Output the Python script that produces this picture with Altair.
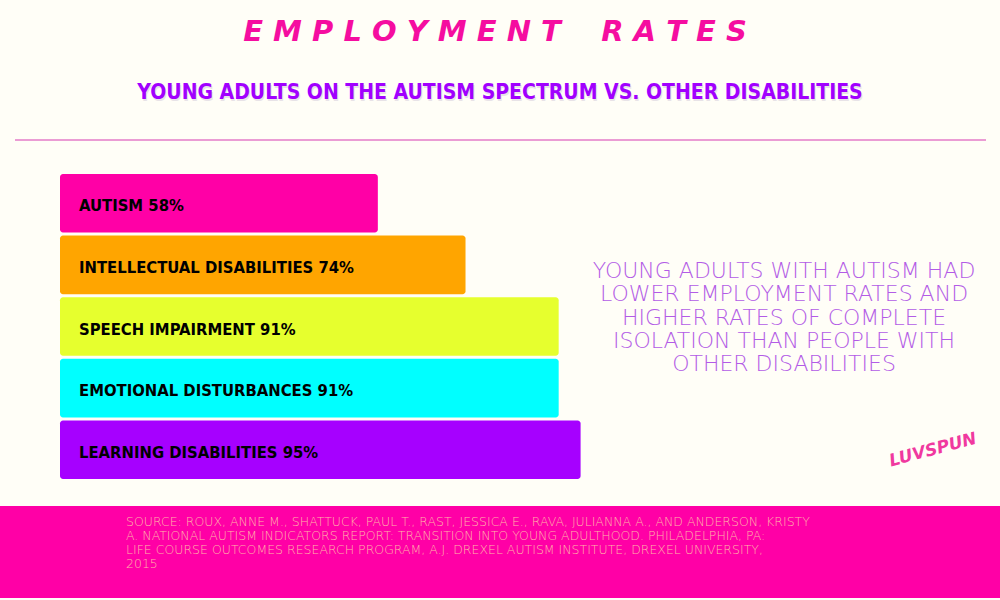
import altair as alt
import pandas as pd

# ---- data ----
categories = ["Autism", "Intellectual Disabilities", "Speech Impairment",
              "Emotional Disturbances", "Learning Disabilities"]
values = [58, 74, 91, 91, 95]
labels = ["AUTISM 58%", "INTELLECTUAL DISABILITIES 74%", "SPEECH IMPAIRMENT 91%",
          "EMOTIONAL DISTURBANCES 91%", "LEARNING DISABILITIES 95%"]
bar_colors = ["#FF00A6", "#FFA500", "#E6FF2E", "#00FFFF", "#A600FF"]

NB = "\u00a0"
title_text = NB.join("EMPLOYMENT") + NB * 4 + NB.join("RATES")
subtitle_text = "YOUNG ADULTS ON THE AUTISM SPECTRUM VS. OTHER DISABILITIES"
note_lines = ["YOUNG ADULTS WITH AUTISM HAD", "LOWER EMPLOYMENT RATES AND",
              "HIGHER RATES OF COMPLETE", "ISOLATION THAN PEOPLE WITH",
              "OTHER DISABILITIES"]
source_lines = [
    "SOURCE: ROUX, ANNE M., SHATTUCK, PAUL T., RAST, JESSICA E., RAVA, JULIANNA A., AND ANDERSON, KRISTY",
    "A. NATIONAL AUTISM INDICATORS REPORT: TRANSITION INTO YOUNG ADULTHOOD. PHILADELPHIA, PA:",
    "LIFE COURSE OUTCOMES RESEARCH PROGRAM, A.J. DREXEL AUTISM INSTITUTE, DREXEL UNIVERSITY,",
    "2015",
]

df = pd.DataFrame({"category": categories, "value": values, "label": labels,
                   "start": [0] * len(values)})
one = pd.DataFrame({"a": [0]})

W, H = 1000, 600
COND = "'DejaVu Sans Condensed', 'DejaVu Sans', sans-serif"

xscale = alt.Scale(domain=[0, 100], range=[60, 608])
yscale = alt.Scale(domain=categories, range=[174, 479], paddingInner=0.05, paddingOuter=0)
cscale = alt.Scale(domain=categories, range=bar_colors)

footer_band = alt.Chart(one).mark_rect(color="#FF00A6").encode(
    x=alt.value(0), x2=alt.value(W), y=alt.value(506), y2=alt.value(598))

divider = alt.Chart(one).mark_rule(color="#E47BC8", strokeWidth=1.5).encode(
    x=alt.value(15), x2=alt.value(986), y=alt.value(140))

bars = alt.Chart(df).mark_bar(cornerRadiusEnd=3).encode(
    x=alt.X("value:Q", scale=xscale, axis=None),
    x2=alt.X2("start:Q"),
    y=alt.Y("category:N", scale=yscale, axis=None, sort=categories),
    color=alt.Color("category:N", scale=cscale, legend=None),
)

bar_labels = alt.Chart(df).mark_text(
    align="left", baseline="middle", dx=19, dy=3, font=COND, fontWeight="bold",
    fontSize=16.5, color="#000000").encode(
    x=alt.X("start:Q", scale=xscale, axis=None),
    y=alt.Y("category:N", scale=yscale, axis=None, sort=categories),
    text="label:N",
)

title = alt.Chart(one).mark_text(
    text=title_text, align="center", baseline="middle", font="DejaVu Sans",
    fontStyle="italic", fontWeight="bold", fontSize=29, color="#F50DA0").encode(
    x=alt.value(495), y=alt.value(32))

subtitle_shadow = alt.Chart(one).mark_text(
    text=subtitle_text, align="center", baseline="middle", font=COND,
    fontWeight="bold", fontSize=21, color="#D9D2DE", opacity=0.6).encode(
    x=alt.value(501), y=alt.value(95))

subtitle = alt.Chart(one).mark_text(
    text=subtitle_text, align="center", baseline="middle", font=COND,
    fontWeight="bold", fontSize=21, color="#A100FF").encode(
    x=alt.value(500), y=alt.value(93))

note = alt.Chart(one).mark_text(
    text=note_lines, align="center", baseline="middle", font="DejaVu Sans",
    fontWeight=200, fontSize=22, lineHeight=23.3, color="#B35CE6").encode(
    x=alt.value(784), y=alt.value(271))

source = alt.Chart(one).mark_text(
    text=source_lines, align="left", baseline="middle", font="DejaVu Sans",
    fontWeight=200, fontSize=12.5, lineHeight=14, color="#FFB3A8").encode(
    x=alt.value(126), y=alt.value(522))

logo = alt.Chart(one).mark_text(
    text="LUVSPUN", align="center", baseline="middle", font="DejaVu Sans",
    fontStyle="italic", fontWeight="bold", fontSize=17, angle=345,
    color="#F0399F").encode(x=alt.value(933), y=alt.value(450))

chart = alt.layer(
    footer_band, divider, bars, bar_labels, title, subtitle_shadow, subtitle,
    note, source, logo
).properties(
    width=W, height=H, padding=0, autosize=alt.AutoSizeParams(type="none"),
    background="#FFFEF7",
).configure_view(stroke=None)

chart.save("out.html", embed_options={"renderer": "svg", "actions": False})
